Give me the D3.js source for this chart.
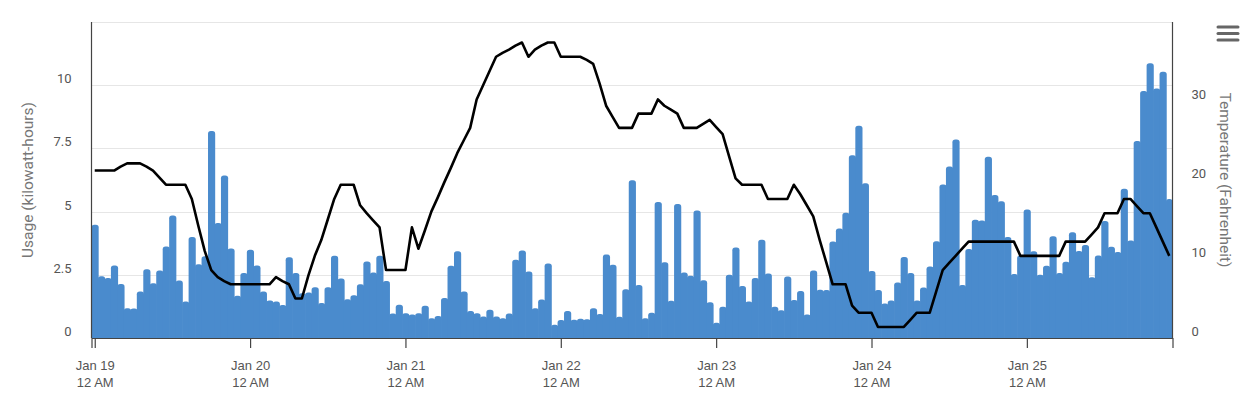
<!DOCTYPE html>
<html>
<head>
<meta charset="utf-8">
<script src="https://cdn.jsdelivr.net/npm/d3@7"></script>
<style>
  html, body { margin: 0; padding: 0; background: #fff; }
  svg { display: block; font-family: Roboto, "Noto Sans", sans-serif; }
</style>
</head>
<body>
<svg id="chart" width="1248" height="393"></svg>
<script>
// ---- data (hourly, starting Jan 19 12 AM) ----
const startDate = new Date(2019, 0, 19, 0, 0);

const usage = [
  4.48, 2.44, 2.37, 2.87, 2.14, 1.18, 1.17, 1.84, 2.72, 2.17, 2.67, 3.62, 4.85, 2.27, 1.44, 4.0,
  2.92, 3.23, 8.19, 4.55, 6.43, 3.54, 1.67, 2.57, 3.49, 2.87, 1.84, 1.48, 1.44, 1.31, 3.19, 2.57,
  1.77, 1.8, 2.01, 1.38, 2.01, 3.25, 2.35, 1.53, 1.69, 2.13, 3.03, 2.59, 3.25, 2.25, 0.97, 1.32,
  0.98, 0.93, 0.98, 1.28, 0.78, 0.87, 1.58, 2.86, 3.43, 1.84, 1.07, 0.98, 0.85, 1.12, 0.85, 0.78,
  0.97, 3.1, 3.46, 2.63, 1.18, 1.52, 2.95, 0.52, 0.71, 1.07, 0.72, 0.76, 0.74, 1.18, 0.95, 3.3,
  2.9, 0.84, 1.93, 6.24, 2.1, 0.78, 1.0, 5.38, 3.0, 1.47, 5.3, 2.59, 2.46, 5.04, 2.28, 1.41,
  0.6, 1.24, 2.5, 3.58, 2.06, 1.44, 2.37, 3.89, 2.55, 1.24, 1.1, 2.43, 1.5, 1.86, 0.93, 2.67,
  1.91, 1.9, 3.82, 4.33, 4.95, 7.23, 8.4, 6.12, 2.65, 1.9, 1.36, 1.48, 2.2, 3.2, 2.57, 1.48,
  2.0, 2.83, 3.83, 6.07, 6.78, 7.85, 2.1, 3.52, 4.68, 4.65, 7.17, 5.66, 5.41, 4.0, 2.53, 3.26,
  5.08, 3.43, 2.5, 2.86, 4.02, 2.57, 3.02, 4.18, 3.44, 3.68, 2.4, 3.26, 4.63, 3.61, 3.4, 5.9,
  3.86, 7.79, 9.77, 10.87, 9.87, 10.53, 5.5
];

const temperature = [
  21.2, 21.2, 21.2, 21.2, 21.7, 22.1, 22.1, 22.1, 21.7, 21.2, 20.3, 19.4, 19.4, 19.4, 19.4, 17.6,
  14.2, 11.0, 8.6, 7.7, 7.2, 6.8, 6.8, 6.8, 6.8, 6.8, 6.8, 6.8, 7.7, 7.2, 6.8, 5.0,
  5.0, 7.9, 10.4, 12.4, 15.0, 17.6, 19.4, 19.4, 19.4, 16.8, 15.8, 14.9, 14.0, 8.6, 8.6, 8.6,
  8.6, 14.0, 11.3, 13.6, 16.0, 17.8, 19.7, 21.5, 23.4, 25.0, 26.6, 30.2, 32.0, 33.8, 35.6, 36.1,
  36.5, 37.0, 37.4, 35.6, 36.5, 37.0, 37.4, 37.4, 35.6, 35.6, 35.6, 35.6, 35.2, 34.7, 32.2, 29.4,
  28.0, 26.6, 26.6, 26.6, 28.4, 28.4, 28.4, 30.2, 29.4, 28.9, 28.4, 26.6, 26.6, 26.6, 27.1, 27.6,
  26.7, 25.8, 23.0, 20.2, 19.4, 19.4, 19.4, 19.4, 17.6, 17.6, 17.6, 17.6, 19.4, 18.2, 16.8, 15.4,
  12.4, 9.6, 6.8, 6.8, 6.8, 4.1, 3.2, 3.2, 3.2, 1.4, 1.4, 1.4, 1.4, 1.4, 2.3, 3.2,
  3.2, 3.2, 5.9, 8.6, 9.5, 10.4, 11.3, 12.2, 12.2, 12.2, 12.2, 12.2, 12.2, 12.2, 12.2, 10.4,
  10.4, 10.4, 10.4, 10.4, 10.4, 10.4, 12.2, 12.2, 12.2, 12.2, 13.1, 14.0, 15.8, 15.8, 15.8, 17.6,
  17.6, 16.7, 15.8, 15.8, 14.0, 12.2, 10.4
];

const usageTicks = [0, 2.5, 5, 7.5, 10];
const usageGrid = [0, 2.5, 5, 7.5, 10, 12.5];
const tempTicks = [0, 10, 20, 30];
const usageTitle = "Usage (kilowatt-hours)";
const tempTitle = "Temperature (Fahrenheit)";

// ---- layout ----
const svg = d3.select("#chart");
const plotL = 91.5, plotR = 1172.5, plotT = 22, plotB = 338;
const HOUR = 3600 * 1000;
const times = usage.map((_, i) => new Date(startDate.getTime() + i * HOUR));

const x = d3.scaleTime()
  .domain([new Date(startDate.getTime() - HOUR / 2), new Date(startDate.getTime() + (usage.length - 0.5) * HOUR)])
  .range([plotL, plotR]);
const yL = d3.scaleLinear().domain([0, 12.5]).range([plotB, plotT]);
const yR = d3.scaleLinear().domain([0, 40]).range([plotB, plotT]);

// gridlines
svg.append("g").selectAll("line").data(usageGrid).join("line")
  .attr("x1", plotL).attr("x2", plotR)
  .attr("y1", d => Math.round(yL(d)) + 0.5).attr("y2", d => Math.round(yL(d)) + 0.5)
  .attr("stroke", "#e6e6e6").attr("stroke-width", 1);

// bars with rounded tops (slight overlap so adjacent columns touch)
const barW = x(times[1]) - x(times[0]);
const rad = 2.8;
function barPath(t, v, last) {
  const x0 = x(t) - barW / 2, x1 = x0 + barW + (last ? 0 : 0.7), y0 = yL(v), yb = yL(0);
  const rr = Math.min(rad, (yb - y0));
  return `M${x0},${yb}V${y0 + rr}Q${x0},${y0} ${x0 + rr},${y0}H${x1 - rr}Q${x1},${y0} ${x1},${y0 + rr}V${yb}Z`;
}
svg.append("g").selectAll("path").data(usage).join("path")
  .attr("d", (v, i) => barPath(times[i], v, i === usage.length - 1))
  .attr("fill", "#4a8bcd");

// temperature line
const line = d3.line().x((d, i) => x(times[i])).y(d => yR(d));
svg.append("path").datum(temperature)
  .attr("d", line)
  .attr("fill", "none").attr("stroke", "#000").attr("stroke-width", 2.6)
  .attr("stroke-linejoin", "round");

// axis lines
svg.append("line").attr("x1", plotL).attr("x2", plotL).attr("y1", plotT).attr("y2", plotB)
  .attr("stroke", "#444").attr("stroke-width", 1.2);
svg.append("line").attr("x1", plotR).attr("x2", plotR).attr("y1", plotT).attr("y2", plotB)
  .attr("stroke", "#444").attr("stroke-width", 1.2);

// bottom axis
const days = d3.timeDay.range(startDate, new Date(startDate.getTime() + usage.length * HOUR));
const fmtDay = d3.timeFormat("%b %-d");
const fmtHour = d3.timeFormat("%-I %p");
const xAxis = d3.axisBottom(x).tickValues(days).tickSize(10).tickFormat("");
const gx = svg.append("g").attr("transform", `translate(0,${plotB})`).call(xAxis);
gx.select(".domain").attr("stroke", "#444").attr("stroke-width", 1.2);
gx.selectAll(".tick line").attr("stroke", "#444").attr("stroke-width", 1.2);
const lbl = gx.selectAll(".tick").append("text")
  .attr("fill", "#555").attr("font-size", 13).attr("text-anchor", "middle");
lbl.append("tspan").attr("x", 0).attr("y", 32).text(d => fmtDay(d));
lbl.append("tspan").attr("x", 0).attr("y", 49).text(d => fmtHour(d));

// left axis labels
const fmtL = d => String(d);
const yAxisL = d3.axisLeft(yL).tickValues(usageTicks).tickSize(0).tickPadding(20).tickFormat(fmtL);
const gl = svg.append("g").attr("transform", `translate(${plotL},0)`).call(yAxisL);
gl.select(".domain").remove();
gl.selectAll(".tick text").attr("fill", "#555").attr("font-size", 13).attr("dy", "-0.2em")
  .style("font-family", "Roboto, sans-serif");

// right axis labels
const yAxisR = d3.axisRight(yR).tickValues(tempTicks).tickSize(0).tickPadding(19);
const gr = svg.append("g").attr("transform", `translate(${plotR},0)`).call(yAxisR);
gr.select(".domain").remove();
gr.selectAll(".tick text").attr("fill", "#555").attr("font-size", 13).attr("dy", "-0.2em")
  .style("font-family", "Roboto, sans-serif");

// axis titles
svg.append("text").attr("transform", `translate(33,180) rotate(-90)`)
  .attr("text-anchor", "middle").attr("fill", "#777").attr("font-size", 15.5).text(usageTitle);
svg.append("text").attr("transform", `translate(1220,180) rotate(90)`)
  .attr("text-anchor", "middle").attr("fill", "#777").attr("font-size", 15.5).text(tempTitle);

// menu icon
svg.append("g").selectAll("line").data([0, 1, 2]).join("line")
  .attr("x1", 1218).attr("x2", 1238)
  .attr("y1", d => 27 + d * 6.5).attr("y2", d => 27 + d * 6.5)
  .attr("stroke", "#666").attr("stroke-width", 3).attr("stroke-linecap", "round");
</script>
</body>
</html>
